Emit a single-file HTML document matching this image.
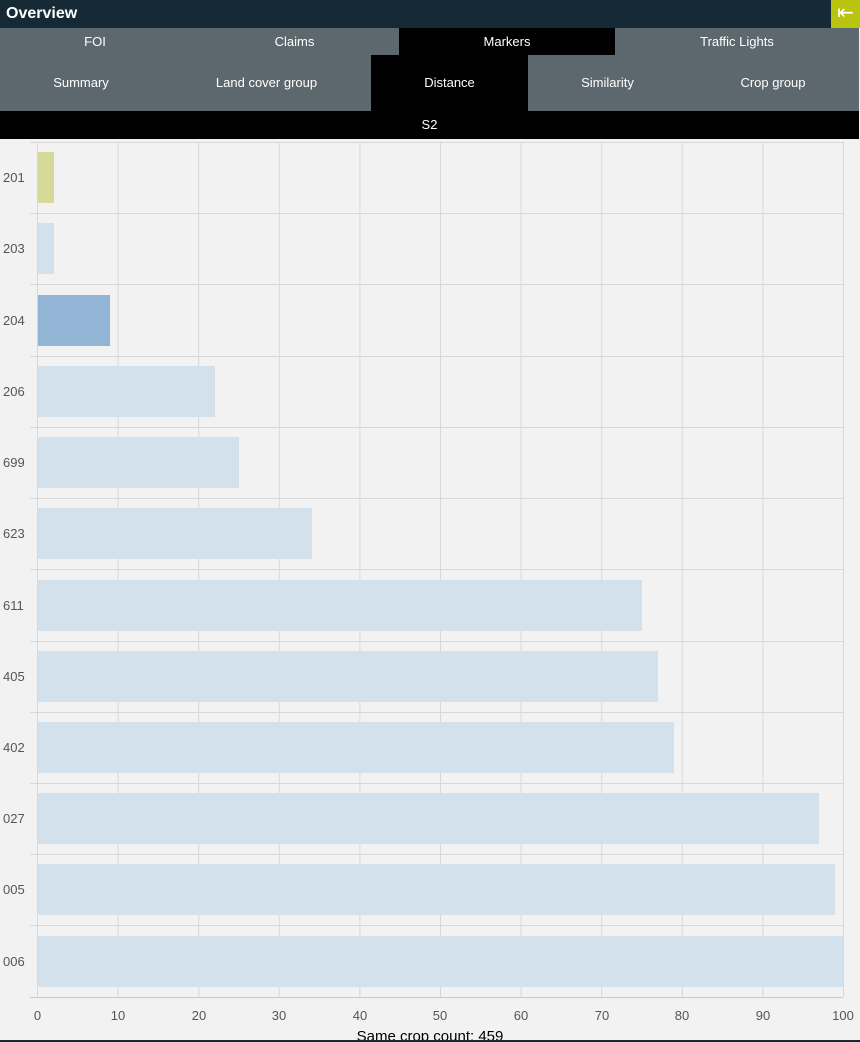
<!DOCTYPE html>
<html><head><style>
body{margin:0;width:860px;height:1042px;background:#f2f2f2;font-family:"Liberation Sans",sans-serif;overflow:hidden;position:relative}
.a{position:absolute;box-sizing:border-box;color:#fff;font-size:13px;text-align:center}
</style></head><body>
<div class="a" style="left:0;top:0;width:860px;height:28px;background:#152a35;text-align:left;font-weight:bold;font-size:16px;line-height:27px;padding-left:6px">Overview</div>
<div class="a" style="left:831px;top:0;width:29px;height:28px;background:#b8c40e;font-size:20px;line-height:27px">⇤</div>
<div class="a" style="left:0;top:28px;width:399px;height:27px;background:#5c686d"></div>
<div class="a" style="left:0;top:28px;width:190px;line-height:27px">FOI</div>
<div class="a" style="left:190px;top:28px;width:209px;line-height:27px">Claims</div>
<div class="a" style="left:399px;top:28px;width:216px;height:27px;background:#000;line-height:27px">Markers</div>
<div class="a" style="left:615px;top:28px;width:244px;height:27px;background:#5c686d;line-height:27px">Traffic Lights</div>
<div class="a" style="left:0;top:55px;width:371px;height:56px;background:#5c686d"></div>
<div class="a" style="left:0;top:55px;width:162px;line-height:56px">Summary</div>
<div class="a" style="left:162px;top:55px;width:209px;line-height:56px">Land cover group</div>
<div class="a" style="left:371px;top:55px;width:157px;height:56px;background:#000;line-height:56px">Distance</div>
<div class="a" style="left:528px;top:55px;width:331px;height:56px;background:#5c686d"></div>
<div class="a" style="left:528px;top:55px;width:159px;line-height:56px">Similarity</div>
<div class="a" style="left:687px;top:55px;width:172px;line-height:56px">Crop group</div>
<div class="a" style="left:0;top:111px;width:859px;height:28px;background:#000;line-height:28px">S2</div>
<svg style="position:absolute;left:0;top:0" width="860" height="1042">
<g stroke="#d8d8d8" stroke-width="1">
<line x1="37.5" y1="142" x2="37.5" y2="997"/><line x1="118.1" y1="142" x2="118.1" y2="997"/><line x1="198.7" y1="142" x2="198.7" y2="997"/><line x1="279.3" y1="142" x2="279.3" y2="997"/><line x1="359.9" y1="142" x2="359.9" y2="997"/><line x1="440.5" y1="142" x2="440.5" y2="997"/><line x1="521.1" y1="142" x2="521.1" y2="997"/><line x1="601.7" y1="142" x2="601.7" y2="997"/><line x1="682.3" y1="142" x2="682.3" y2="997"/><line x1="762.9" y1="142" x2="762.9" y2="997"/><line x1="843.5" y1="142" x2="843.5" y2="997"/>
<line x1="30" y1="142.5" x2="843" y2="142.5"/><line x1="30" y1="213.5" x2="843" y2="213.5"/><line x1="30" y1="284.5" x2="843" y2="284.5"/><line x1="30" y1="356.5" x2="843" y2="356.5"/><line x1="30" y1="427.5" x2="843" y2="427.5"/><line x1="30" y1="498.5" x2="843" y2="498.5"/><line x1="30" y1="569.5" x2="843" y2="569.5"/><line x1="30" y1="641.5" x2="843" y2="641.5"/><line x1="30" y1="712.5" x2="843" y2="712.5"/><line x1="30" y1="783.5" x2="843" y2="783.5"/><line x1="30" y1="854.5" x2="843" y2="854.5"/><line x1="30" y1="925.5" x2="843" y2="925.5"/>
<line x1="30" y1="997.5" x2="843" y2="997.5" stroke="#c8c8c8"/>
</g>
<g>
<rect x="38" y="152" width="16" height="51" fill="#d5da98"/>
<rect x="38" y="223" width="16" height="51" fill="#d3e1ec"/>
<rect x="38" y="295" width="72" height="51" fill="#93b5d5"/>
<rect x="38" y="366" width="177" height="51" fill="#d3e1ec"/>
<rect x="38" y="437" width="201" height="51" fill="#d3e1ec"/>
<rect x="38" y="508" width="274" height="51" fill="#d3e1ec"/>
<rect x="38" y="580" width="604" height="51" fill="#d3e1ec"/>
<rect x="38" y="651" width="620" height="51" fill="#d3e1ec"/>
<rect x="38" y="722" width="636" height="51" fill="#d3e1ec"/>
<rect x="38" y="793" width="781" height="51" fill="#d3e1ec"/>
<rect x="38" y="864" width="797" height="51" fill="#d3e1ec"/>
<rect x="38" y="936" width="805" height="51" fill="#d3e1ec"/>
</g>
<g font-family="Liberation Sans" font-size="13" fill="#555">
<text x="3" y="182">201</text><text x="3" y="253">203</text><text x="3" y="325">204</text><text x="3" y="396">206</text><text x="3" y="467">699</text><text x="3" y="538">623</text><text x="3" y="610">611</text><text x="3" y="681">405</text><text x="3" y="752">402</text><text x="3" y="823">027</text><text x="3" y="894">005</text><text x="3" y="966">006</text>
</g>
<g font-family="Liberation Sans" font-size="13" fill="#555" text-anchor="middle">
<text x="37.5" y="1020">0</text><text x="118" y="1020">10</text><text x="199" y="1020">20</text><text x="279" y="1020">30</text><text x="360" y="1020">40</text><text x="440" y="1020">50</text><text x="521" y="1020">60</text><text x="602" y="1020">70</text><text x="682" y="1020">80</text><text x="763" y="1020">90</text><text x="843" y="1020">100</text>
</g>
<text x="430" y="1041" font-family="Liberation Sans" font-size="15" fill="#000" text-anchor="middle">Same crop count: 459</text>
<rect x="0" y="1040" width="860" height="2" fill="#152a35"/>
</svg>
</body></html>
